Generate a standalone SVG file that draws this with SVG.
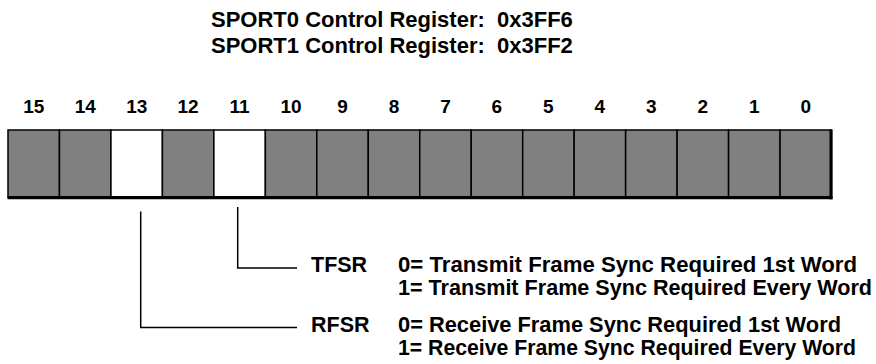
<svg xmlns="http://www.w3.org/2000/svg" width="876" height="364" viewBox="0 0 876 364">
<style>
text{font-family:"Liberation Sans",Arial,sans-serif;font-weight:bold;fill:#000}
.t{font-size:22px}
.d{font-size:21.5px}
.n{font-size:19px;text-anchor:middle}
.cell{fill:#808080;stroke:#000;stroke-width:1.5}
.w{fill:#fff}
.c{fill:none;stroke:#000;stroke-width:1.5}
</style>
<g id="title">
<text class="t" x="211" y="27" xml:space="preserve">SPORT0 Control Register:  0x3FF6</text>
<text class="t" x="211" y="53" xml:space="preserve">SPORT1 Control Register:  0x3FF2</text>
</g>
<g id="bitnumbers">
<text class="n" x="33.7" y="113">15</text>
<text class="n" x="85.2" y="113">14</text>
<text class="n" x="136.7" y="113">13</text>
<text class="n" x="188.1" y="113">12</text>
<text class="n" x="239.6" y="113">11</text>
<text class="n" x="291.1" y="113">10</text>
<text class="n" x="342.5" y="113">9</text>
<text class="n" x="394" y="113">8</text>
<text class="n" x="445.5" y="113">7</text>
<text class="n" x="496.9" y="113">6</text>
<text class="n" x="548.4" y="113">5</text>
<text class="n" x="599.9" y="113">4</text>
<text class="n" x="651.3" y="113">3</text>
<text class="n" x="702.8" y="113">2</text>
<text class="n" x="754.3" y="113">1</text>
<text class="n" x="805.8" y="113">0</text>
</g>
<g id="register">
<rect class="cell" x="8" y="130" width="51.47" height="67"/>
<rect class="cell" x="59.47" y="130" width="51.47" height="67"/>
<rect class="cell w" x="110.94" y="130" width="51.47" height="67"/>
<rect class="cell" x="162.41" y="130" width="51.47" height="67"/>
<rect class="cell w" x="213.88" y="130" width="51.47" height="67"/>
<rect class="cell" x="265.35" y="130" width="51.47" height="67"/>
<rect class="cell" x="316.82" y="130" width="51.47" height="67"/>
<rect class="cell" x="368.29" y="130" width="51.47" height="67"/>
<rect class="cell" x="419.76" y="130" width="51.47" height="67"/>
<rect class="cell" x="471.23" y="130" width="51.47" height="67"/>
<rect class="cell" x="522.7" y="130" width="51.47" height="67"/>
<rect class="cell" x="574.17" y="130" width="51.47" height="67"/>
<rect class="cell" x="625.64" y="130" width="51.47" height="67"/>
<rect class="cell" x="677.11" y="130" width="51.47" height="67"/>
<rect class="cell" x="728.58" y="130" width="51.47" height="67"/>
<rect class="cell" x="780.05" y="130" width="51.47" height="67"/>
<line x1="7.5" y1="197.7" x2="832.5" y2="197.7" stroke="#000" stroke-width="3.2"/>
<line x1="831" y1="129.5" x2="831" y2="199.3" stroke="#000" stroke-width="3"/>
</g>
<g id="connectors">
<polyline class="c" points="237.7,207 237.7,268 297,268"/>
<polyline class="c" points="140.7,211.5 140.7,327.5 297,327.5"/>
</g>
<g id="tfsr">
<text class="d" x="311" y="272">TFSR</text>
<text class="d" x="398" y="272" textLength="459" lengthAdjust="spacingAndGlyphs">0= Transmit Frame Sync Required 1st Word</text>
<text class="d" x="398" y="295" textLength="474" lengthAdjust="spacingAndGlyphs">1= Transmit Frame Sync Required Every Word</text>
</g>
<g id="rfsr">
<text class="d" x="311" y="332">RFSR</text>
<text class="d" x="398" y="332" textLength="443" lengthAdjust="spacingAndGlyphs">0= Receive Frame Sync Required 1st Word</text>
<text class="d" x="398" y="355" textLength="458" lengthAdjust="spacingAndGlyphs">1= Receive Frame Sync Required Every Word</text>
</g>
</svg>
